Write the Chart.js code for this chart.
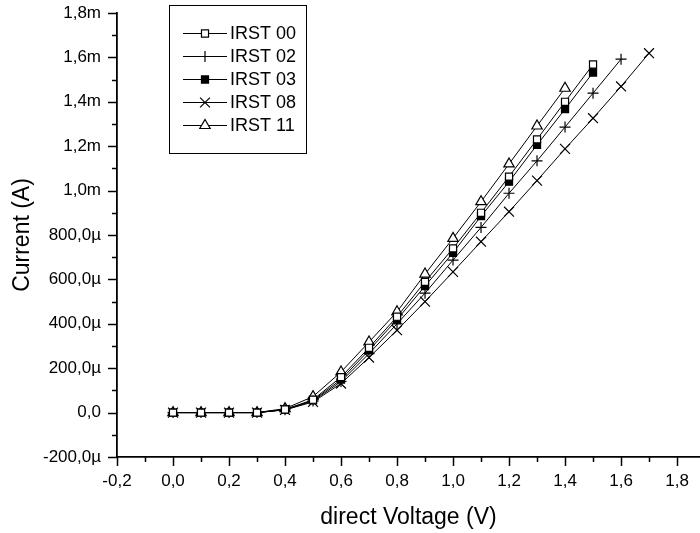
<!DOCTYPE html>
<html>
<head>
<meta charset="utf-8">
<script src="https://cdn.jsdelivr.net/npm/chart.js@4/dist/chart.umd.min.js"></script>
<style>
  html, body { margin: 0; padding: 0; background: #fff; }
  canvas { display: block; }
</style>
</head>
<body>
<canvas id="iv" width="700" height="533"></canvas>
<script>
/* --- data (voltage in V, current in mA) --- */
var voltage = [0.0, 0.1, 0.2, 0.3, 0.4, 0.5, 0.6, 0.7, 0.8, 0.9, 1.0, 1.1, 1.2, 1.3, 1.4, 1.5, 1.6, 1.7];
var irst00 = [0, 0, 0, 0, 0.014, 0.058, 0.160, 0.292, 0.432, 0.589, 0.740, 0.900, 1.063, 1.231, 1.400, 1.568];
var irst02 = [0, 0, 0, 0, 0.013, 0.052, 0.140, 0.266, 0.400, 0.538, 0.687, 0.834, 0.988, 1.134, 1.286, 1.439, 1.592];
var irst03 = [0, 0, 0, 0, 0.014, 0.055, 0.149, 0.281, 0.419, 0.570, 0.720, 0.885, 1.040, 1.206, 1.367, 1.532];
var irst08 = [0, 0, 0, 0, 0.012, 0.048, 0.131, 0.248, 0.371, 0.500, 0.634, 0.770, 0.905, 1.045, 1.188, 1.326, 1.469, 1.619];
var irst11 = [0, 0, 0, 0, 0.018, 0.072, 0.183, 0.318, 0.454, 0.624, 0.785, 0.950, 1.120, 1.291, 1.461];
var seriesNames = ['IRST 00', 'IRST 02', 'IRST 03', 'IRST 08', 'IRST 11'];

/* --- axis ticks (major every 0.2, minor between) --- */
var xTicks = [-0.2, -0.1, 0.0, 0.1, 0.2, 0.3, 0.4, 0.5, 0.6, 0.7, 0.8, 0.9, 1.0, 1.1, 1.2, 1.3, 1.4, 1.5, 1.6, 1.7, 1.8];
var yTicks = [-0.2, -0.1, 0.0, 0.1, 0.2, 0.3, 0.4, 0.5, 0.6, 0.7, 0.8, 0.9, 1.0, 1.1, 1.2, 1.3, 1.4, 1.5, 1.6, 1.7, 1.8];

var FONT = '"Liberation Sans", Arial, Helvetica, sans-serif';

function pts(ys) {
  var out = [];
  for (var i = 0; i < ys.length; i++) out.push({ x: voltage[i], y: ys[i] });
  return out;
}

function isMajor(v) {
  return Math.round(v * 10) % 2 === 0;
}

function comma(s) { return s.replace('.', ','); }

function fmtCurrent(v) {
  if (Math.abs(v) < 1e-9) return '0,0';
  if (Math.abs(v) >= 1) return comma(v.toFixed(1)) + 'm';
  return comma((v * 1000).toFixed(1)) + '\u00b5';
}

function series(label, ys, style, fill, r) {
  return {
    label: label,
    data: pts(ys),
    showLine: true,
    borderColor: '#000',
    borderWidth: 1,
    backgroundColor: fill,
    pointStyle: style,
    pointRadius: r,
    pointBorderColor: '#000',
    pointBackgroundColor: fill,
    pointBorderWidth: 1.2,
    tension: 0
  };
}

/* --- outward tick marks, long for major, short for minor --- */
var tickMarks = {
  id: 'tickMarks',
  afterDraw: function(chart) {
    var ctx = chart.ctx;
    var xs = chart.scales.x, ys = chart.scales.y;
    ctx.save();
    ctx.strokeStyle = '#000';
    ctx.lineWidth = 1.5;
    for (var i = 0; i < xTicks.length; i++) {
      var px = Math.round(xs.getPixelForValue(xTicks[i])) + 0.5;
      var len = isMajor(xTicks[i]) ? 9 : 5;
      ctx.beginPath();
      ctx.moveTo(px, xs.top);
      ctx.lineTo(px, xs.top + len);
      ctx.stroke();
    }
    for (var j = 0; j < yTicks.length; j++) {
      var py = Math.round(ys.getPixelForValue(yTicks[j])) + 0.5;
      var l2 = isMajor(yTicks[j]) ? 9 : 5;
      ctx.beginPath();
      ctx.moveTo(ys.right, py);
      ctx.lineTo(ys.right - l2, py);
      ctx.stroke();
    }
    ctx.restore();
  }
};

/* --- boxed legend in the top-left of the plot --- */
var boxLegend = {
  id: 'boxLegend',
  afterDraw: function(chart) {
    var ctx = chart.ctx;
    ctx.save();
    ctx.strokeStyle = '#000';
    ctx.lineWidth = 1;
    ctx.strokeRect(169.5, 5.5, 137, 148);
    ctx.font = '18px ' + FONT;
    ctx.textBaseline = 'middle';
    ctx.textAlign = 'left';
    var dsets = chart.data.datasets;
    for (var i = 0; i < dsets.length; i++) {
      var ds = dsets[i];
      var y = Math.round(33 + i * 23) + 0.5;
      ctx.strokeStyle = '#000';
      ctx.lineWidth = 1;
      ctx.beginPath();
      ctx.moveTo(183, y);
      ctx.lineTo(227, y);
      ctx.stroke();
      ctx.fillStyle = ds.pointBackgroundColor;
      ctx.strokeStyle = '#000';
      ctx.lineWidth = ds.pointBorderWidth;
      Chart.helpers.drawPoint(ctx, {
        pointStyle: ds.pointStyle,
        radius: ds.pointRadius,
        rotation: 0,
        borderWidth: ds.pointBorderWidth
      }, 205, y);
      ctx.fillStyle = '#000';
      ctx.fillText(ds.label, 230, y + 1);
    }
    ctx.restore();
  }
};

new Chart(document.getElementById('iv'), {
  type: 'scatter',
  data: {
    datasets: [
      series(seriesNames[0], irst00, 'rect', '#fff', 5),
      series(seriesNames[1], irst02, 'cross', '#000', 5.5),
      series(seriesNames[2], irst03, 'rect', '#000', 5),
      series(seriesNames[3], irst08, 'crossRot', '#000', 7),
      series(seriesNames[4], irst11, 'triangle', '#fff', 6)
    ]
  },
  options: {
    responsive: false,
    animation: false,
    layout: { autoPadding: false, padding: { top: 13, right: 0, bottom: 0, left: 0 } },
    plugins: {
      legend: { display: false },
      tooltip: { enabled: false }
    },
    scales: {
      x: {
        type: 'linear',
        min: -0.2,
        max: 1.882,
        afterBuildTicks: function(scale) {
          scale.ticks = xTicks.map(function(v) { return { value: v }; });
        },
        afterFit: function(scale) {
          scale.height = 76;
          scale.paddingLeft = 0;
          scale.paddingRight = 0;
        },
        grid: { display: false, drawTicks: false },
        border: { display: true, color: '#000', width: 1.8 },
        ticks: {
          autoSkip: false,
          maxRotation: 0,
          padding: 14,
          color: '#000',
          font: { family: FONT, size: 17 },
          callback: function(v) { return isMajor(v) ? comma(v.toFixed(1)) : ''; }
        },
        title: {
          display: true,
          text: 'direct Voltage (V)',
          color: '#000',
          font: { family: FONT, size: 23 },
          padding: { top: 0, bottom: 2 }
        }
      },
      y: {
        type: 'linear',
        min: -0.2,
        max: 1.8,
        afterBuildTicks: function(scale) {
          scale.ticks = yTicks.map(function(v) { return { value: v }; });
        },
        afterFit: function(scale) {
          scale.width = 117;
          scale.paddingTop = 0;
          scale.paddingBottom = 0;
        },
        grid: { display: false, drawTicks: false },
        border: { display: true, color: '#000', width: 1.8 },
        ticks: {
          autoSkip: false,
          padding: 16,
          color: '#000',
          font: { family: FONT, size: 17 },
          callback: function(v) { return isMajor(v) ? fmtCurrent(v) : ''; }
        },
        title: {
          display: true,
          text: 'Current (A)',
          color: '#000',
          font: { family: FONT, size: 23 },
          padding: { top: 9, bottom: 0 }
        }
      }
    }
  },
  plugins: [tickMarks, boxLegend]
});
</script>
</body>
</html>
